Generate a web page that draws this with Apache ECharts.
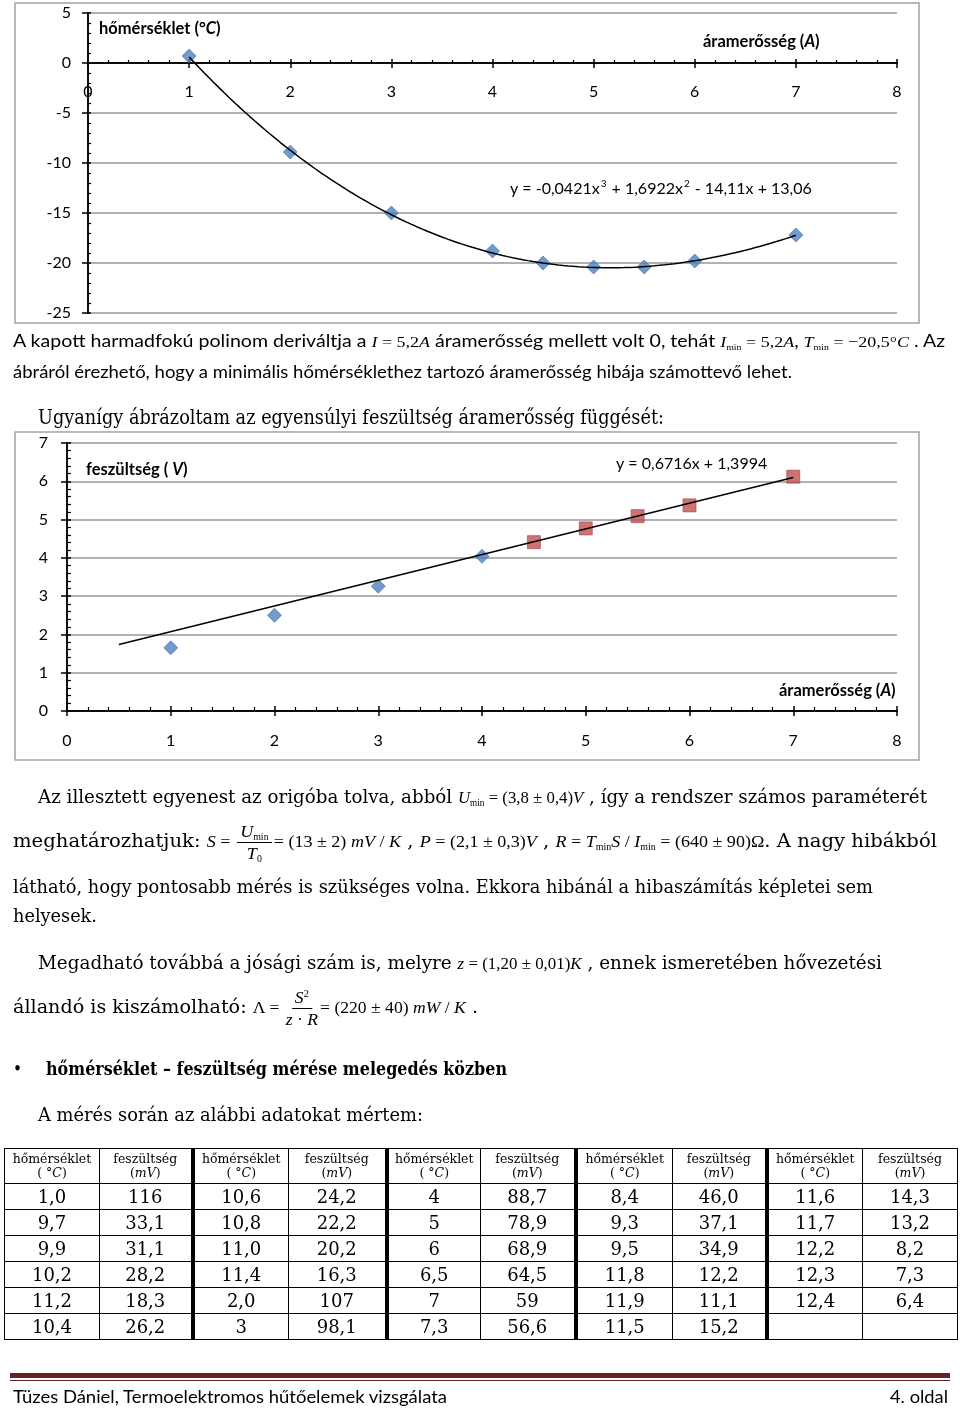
<!DOCTYPE html>
<html><head><meta charset="utf-8">
<script src="https://cdn.jsdelivr.net/npm/echarts@6/dist/echarts.min.js"></script>
<style>
html,body{margin:0;padding:0;background:#fff}
body{position:relative;width:960px;height:1409px;overflow:hidden}
#c{position:absolute;left:0;top:0;width:960px;height:1409px}
.ln{position:absolute;white-space:nowrap;transform-origin:0 50%;line-height:1.2;color:#000;left:0;top:0}
.cal{font-family:Lato,"Open Sans",sans-serif;font-size:17px}
.srf{font-family:"DejaVu Serif",serif;font-size:19px}
.eq{font-family:"Liberation Serif",serif;font-size:0.92em}
.eq i{font-style:italic}
sub{font-size:55%;vertical-align:-0.35em;line-height:0;font-style:normal}
sup{font-size:60%;vertical-align:0.55em;line-height:0}
.fr{display:inline-flex;flex-direction:column;align-items:center;vertical-align:middle;margin:0 2px;line-height:1.1}
.nu{border-bottom:1px solid #000;padding:0 3px 1px}
.de{padding-top:1px}
#tbl{position:absolute;left:4px;top:1148px;border-collapse:collapse;table-layout:fixed;width:953px;font-family:"DejaVu Serif",serif;color:#000}
#tbl td,#tbl th{border:1px solid #000;text-align:center;padding:0;overflow:hidden;white-space:nowrap}
#tbl th{font-weight:normal;font-size:12.5px;line-height:1.15;height:34px}
#tbl td{font-size:18px;line-height:1;height:25px}
#tbl .k{border-left:4px solid #000}
.rule{position:absolute;left:10px;top:1373px;width:940px;height:5px;background:#632523}
.rule2{position:absolute;left:10px;top:1380px;width:940px;height:1px;background:#632523}
</style></head>
<body>
<div id="c"></div>

<div class="ln cal" data-x="13" data-y="340" data-w="932"><span class="a">A kapott harmadfokú polinom deriváltja a </span><span class="eq"><i>I</i> = 5,2<i>A</i></span> áramerősség mellett volt 0, tehát <span class="eq"><i>I</i><sub>min</sub> = 5,2<i>A</i></span>, <span class="eq"><i>T</i><sub>min</sub> = −20,5°<i>C</i></span> . Az</div>
<div class="ln cal" data-x="13" data-y="371" data-w="779"><span class="a">ábráról érezhető, hogy a minimális hőmérséklethez tartozó áramerősség hibája számottevő lehet.</span></div>

<div class="ln srf" data-x="38" data-y="417" data-w="626" style="font-size:20px"><span class="a">Ugyanígy ábrázoltam az egyensúlyi feszültség áramerősség függését:</span></div>

<div class="ln srf" data-x="38" data-y="796" data-w="889"><span class="a">Az illesztett egyenest az origóba tolva, abból </span><span class="eq"><i>U</i><sub>min</sub> = (3,8 ± 0,4)<i>V</i></span> , így a rendszer számos paraméterét</div>
<div class="ln srf" data-x="13" data-y="840" data-w="924"><span class="a">meghatározhatjuk: </span><span class="eq"><i>S</i> = <span class="fr"><span class="nu"><i>U</i><sub>min</sub></span><span class="de"><i>T</i><sub>0</sub></span></span>= (13 ± 2) <i>mV</i> / <i>K</i></span> , <span class="eq"><i>P</i> = (2,1 ± 0,3)<i>V</i></span> , <span class="eq"><i>R</i> = <i>T</i><sub>min</sub><i>S</i> / <i>I</i><sub>min</sub> = (640 ± 90)Ω</span>. A nagy hibákból</div>
<div class="ln srf" data-x="13" data-y="886" data-w="860"><span class="a">látható, hogy pontosabb mérés is szükséges volna. Ekkora hibánál a hibaszámítás képletei sem</span></div>
<div class="ln srf" data-x="13" data-y="915" data-w="84"><span class="a">helyesek.</span></div>

<div class="ln srf" data-x="38" data-y="962" data-w="844"><span class="a">Megadható továbbá a jósági szám is, melyre </span><span class="eq"><i>z</i> = (1,20 ± 0,01)<i>K</i></span> , ennek ismeretében hővezetési</div>
<div class="ln srf" data-x="13" data-y="1006" data-w="465"><span class="a">állandó is kiszámolható: </span><span class="eq">Λ = <span class="fr"><span class="nu"><i>S</i><sup>2</sup></span><span class="de"><i>z</i> · <i>R</i></span></span>= (220 ± 40) <i>mW</i> / <i>K</i></span> .</div>

<div class="ln srf" data-x="13" data-y="1068" data-w="9"><span class="a">•</span></div>
<div class="ln srf" data-x="46" data-y="1068" data-w="461" style="font-weight:bold"><span class="a">hőmérséklet – feszültség mérése melegedés közben</span></div>
<div class="ln srf" data-x="38" data-y="1114" data-w="385"><span class="a">A mérés során az alábbi adatokat mértem:</span></div>

<table id="tbl"></table>

<div class="rule"></div><div class="rule2"></div>
<div class="ln cal" data-x="13" data-y="1396" data-w="434"><span class="a">Tüzes Dániel, Termoelektromos hűtőelemek vizsgálata</span></div>
<div class="ln cal" data-x="890" data-y="1396" data-w="58"><span class="a">4. oldal</span></div>

<script>
// ---------- chart 1: hőmérséklet vs áramerősség ----------
const current1 = [1, 2, 3, 4, 4.5, 5, 5.5, 6, 7];
const temp1 = [0.7, -8.9, -15.0, -18.8, -20.0, -20.4, -20.4, -19.8, -17.2];
const poly1 = [13.06, -14.11, 1.6922, -0.0421];   // c0 + c1 x + c2 x^2 + c3 x^3 (Excel trendline)
const fitRange1 = [1, 7];
const yTicks1 = [-25, 5, 5];   // min, max, interval
// ---------- chart 2: feszültség vs áramerősség ----------
const current2a = [1, 2, 3, 4];
const volt2a = [1.65, 2.50, 3.26, 4.04];
const current2b = [4.5, 5, 5.5, 6, 7];
const volt2b = [4.41, 4.77, 5.09, 5.37, 6.12];
const lin2 = [1.3994, 0.6716];  // intercept, slope
const fitRange2 = [0.5, 7];
const yTicks2 = [0, 7, 1];
const xTicks = [0, 8, 1];
// ---------- labels ----------
const eq1 = '{n|y = -0,0421x}{s|3}{n| + 1,6922x}{s|2}{n| - 14,11x + 13,06}';
const eq2 = 'y = 0,6716x + 1,3994';
// ---------- table ----------
const tableHeadT = ['hőmérséklet', '( °<i>C</i>)'];
const tableHeadU = ['feszültség', '(<i>mV</i>)'];
const tT1 = ['1,0','9,7','9,9','10,2','11,2','10,4'];
const tU1 = ['116','33,1','31,1','28,2','18,3','26,2'];
const tT2 = ['10,6','10,8','11,0','11,4','2,0','3'];
const tU2 = ['24,2','22,2','20,2','16,3','107','98,1'];
const tT3 = ['4','5','6','6,5','7','7,3'];
const tU3 = ['88,7','78,9','68,9','64,5','59','56,6'];
const tT4 = ['8,4','9,3','9,5','11,8','11,9','11,5'];
const tU4 = ['46,0','37,1','34,9','12,2','11,1','15,2'];
const tT5 = ['11,6','11,7','12,2','12,3','12,4',''];
const tU5 = ['14,3','13,2','8,2','7,3','6,4',''];

// build table
(function(){
  const pairs = [[tT1,tU1],[tT2,tU2],[tT3,tU3],[tT4,tU4],[tT5,tU5]];
  const widths = [95,93,96,98,94,95,97,94,96,95];
  let h = '<colgroup>' + widths.map(w=>'<col style="width:'+w+'px">').join('') + '</colgroup>';
  h += '<tr>';
  pairs.forEach((p,i)=>{
    h += '<th'+(i>0?' class="k"':'')+'>'+tableHeadT.join('<br>')+'</th><th>'+tableHeadU.join('<br>')+'</th>';
  });
  h += '</tr>';
  for (let r=0;r<6;r++){
    h += '<tr>';
    pairs.forEach((p,i)=>{
      h += '<td'+(i>0?' class="k"':'')+'>'+p[0][r]+'</td><td>'+p[1][r]+'</td>';
    });
    h += '</tr>';
  }
  document.getElementById('tbl').innerHTML = h;
})();

// fit text lines
function fitLines(){
  document.querySelectorAll('.ln').forEach(el=>{
    const x=+el.dataset.x, y=+el.dataset.y, w=+el.dataset.w;
    el.style.transform='none'; el.style.left=x+'px'; el.style.top='0px';
    const r=el.getBoundingClientRect();
    const a=el.querySelector('.a')||el;
    const ar=a.getBoundingClientRect();
    const off=(ar.top+ar.height/2)-r.top;
    el.style.top=(y-off)+'px';
    el.style.transform='scaleX('+(w/r.width)+')';
  });
}
fitLines();
if (document.fonts && document.fonts.ready) document.fonts.ready.then(fitLines);

// fit curves from displayed trendline equations
const curve1 = [];
for (let i=0;i<=120;i++){
  const x = fitRange1[0] + (fitRange1[1]-fitRange1[0])*i/120;
  curve1.push([x, poly1[0]+poly1[1]*x+poly1[2]*x*x+poly1[3]*x*x*x]);
}
const line2 = fitRange2.map(x=>[x, lin2[0]+lin2[1]*x]);

const FF = 'Lato, "Open Sans", sans-serif';
const black = {color:'#000', width:1.5};
const gridLine = {color:'#979797', width:1.5};
const lbl = {color:'#000',fontSize:16,fontFamily:FF,showMinLabel:true,showMaxLabel:true};

function xAxesFor(grid, yIdx, margin, down, up, minor, showLabel){
  return [
    {gridIndex:grid,type:'value',min:xTicks[0],max:xTicks[1],interval:xTicks[2],position:'bottom',
     axisLine:{show:true,onZero:true,onZeroAxisIndex:yIdx,lineStyle:black},
     axisTick:{show:true,length:down,lineStyle:black},minorTick:{show:false},
     splitLine:{show:false},
     axisLabel:Object.assign({show:showLabel,margin:margin},lbl)},
    {gridIndex:grid,type:'value',min:xTicks[0],max:xTicks[1],interval:xTicks[2],position:'top',
     axisLine:{show:true,onZero:true,onZeroAxisIndex:yIdx,lineStyle:black},
     axisTick:{show:true,length:up,lineStyle:black},
     minorTick:{show:true,splitNumber:5,length:minor,lineStyle:{color:'#000',width:1.2}},
     splitLine:{show:false},axisLabel:{show:false}}
  ];
}
function yAxesFor(grid, xIdx, t, margin, left, right, minor){
  return [
    {gridIndex:grid,type:'value',min:t[0],max:t[1],interval:t[2],position:'left',
     axisLine:{show:true,onZero:true,onZeroAxisIndex:xIdx,lineStyle:black},
     axisTick:{show:true,length:left,lineStyle:black},minorTick:{show:false},
     splitLine:{show:true,lineStyle:gridLine},
     axisLabel:Object.assign({show:true,margin:margin},lbl)},
    {gridIndex:grid,type:'value',min:t[0],max:t[1],interval:t[2],position:'right',
     axisLine:{show:true,onZero:true,onZeroAxisIndex:xIdx,lineStyle:black},
     axisTick:{show:true,length:right,lineStyle:black},
     minorTick:{show:true,splitNumber:5,length:minor,lineStyle:{color:'#000',width:1.2}},
     splitLine:{show:false},axisLabel:{show:false}}
  ];
}
// label-only axis for chart 1 (labels sit just under the zero line)
const xLabelAxis1 = {gridIndex:0,type:'value',min:xTicks[0],max:xTicks[1],interval:xTicks[2],position:'bottom',
  offset:-249, axisLine:{show:false,onZero:false}, axisTick:{show:false}, splitLine:{show:false},
  axisLabel:Object.assign({show:true,margin:20},lbl)};

const bold = {fontWeight:'bold',fontSize:16.5,fontFamily:FF,fill:'#000'};
const boldIt = {fontWeight:'bold',fontStyle:'italic',fontSize:16.5,fontFamily:FF,fill:'#000'};
const eqRich = {n:{fontSize:16,fontFamily:FF,fill:'#000',lineHeight:18,verticalAlign:'bottom'},
                s:{fontSize:10,fontFamily:FF,fill:'#000',lineHeight:18,verticalAlign:'top',padding:[0,1,0,1]}};
function label(x,y,text,rich){
  return {type:'text',x:x,y:y,z:100,style:{text:text,rich:rich,verticalAlign:'middle',align:'left',fill:'#000',fontFamily:FF,fontSize:16}};
}

const chart = echarts.init(document.getElementById('c'), null, {renderer:'canvas',width:960,height:1409});
chart.setOption({
  animation:false,
  backgroundColor:'transparent',
  grid:[
    {left:88,top:13,width:809,height:300,outerBoundsMode:'none',containLabel:false},
    {left:67,top:443,width:830,height:268,outerBoundsMode:'none',containLabel:false}
  ],
  xAxis:[].concat(xAxesFor(0,0,20,5,4,3,false), xAxesFor(1,2,22,5,5,4,true), [xLabelAxis1]),
  yAxis:[].concat(yAxesFor(0,0,yTicks1,17,6,3,3), yAxesFor(1,2,yTicks2,19,6,4,4)),
  graphic:[
    {type:'rect',z:-1,shape:{x:15,y:3,width:904,height:320},style:{fill:'#fff',stroke:'#a3a3a3',lineWidth:1.5}},
    {type:'rect',z:-1,shape:{x:15,y:432,width:904,height:328},style:{fill:'#fff',stroke:'#a3a3a3',lineWidth:1.5}},
    label(99,29,'{b|hőmérséklet (°}{bi|C}{b|)}',{b:bold,bi:boldIt}),
    label(703,42,'{b|áramerősség (}{bi|A}{b|)}',{b:bold,bi:boldIt}),
    label(510,188,eq1,eqRich),
    label(86,470,'{b|feszültség ( }{bi|V}{b|)}',{b:bold,bi:boldIt}),
    label(616,464,eq2,null),
    label(779,691,'{b|áramerősség (}{bi|A}{b|)}',{b:bold,bi:boldIt})
  ],
  series:[
    {type:'scatter',xAxisIndex:0,yAxisIndex:0,symbol:'diamond',symbolSize:14,z:2,
     itemStyle:{color:'#4F81BD',borderColor:'#3F6FA8',borderWidth:0.8},
     data:current1.map((x,i)=>[x,temp1[i]])},
    {type:'line',xAxisIndex:0,yAxisIndex:0,showSymbol:false,symbol:'none',z:3,
     lineStyle:{color:'#000',width:1.5},data:curve1},
    {type:'scatter',xAxisIndex:2,yAxisIndex:2,symbol:'diamond',symbolSize:14,z:2,
     itemStyle:{color:'#4F81BD',borderColor:'#3F6FA8',borderWidth:0.8},
     data:current2a.map((x,i)=>[x,volt2a[i]])},
    {type:'scatter',xAxisIndex:2,yAxisIndex:2,symbol:'rect',symbolSize:13,z:2,
     itemStyle:{color:'#C0504D',borderColor:'#A8403D',borderWidth:0.8},
     data:current2b.map((x,i)=>[x,volt2b[i]])},
    {type:'line',xAxisIndex:2,yAxisIndex:2,showSymbol:false,symbol:'none',z:3,
     lineStyle:{color:'#000',width:1.5},data:line2}
  ]
});
</script>
</body></html>
